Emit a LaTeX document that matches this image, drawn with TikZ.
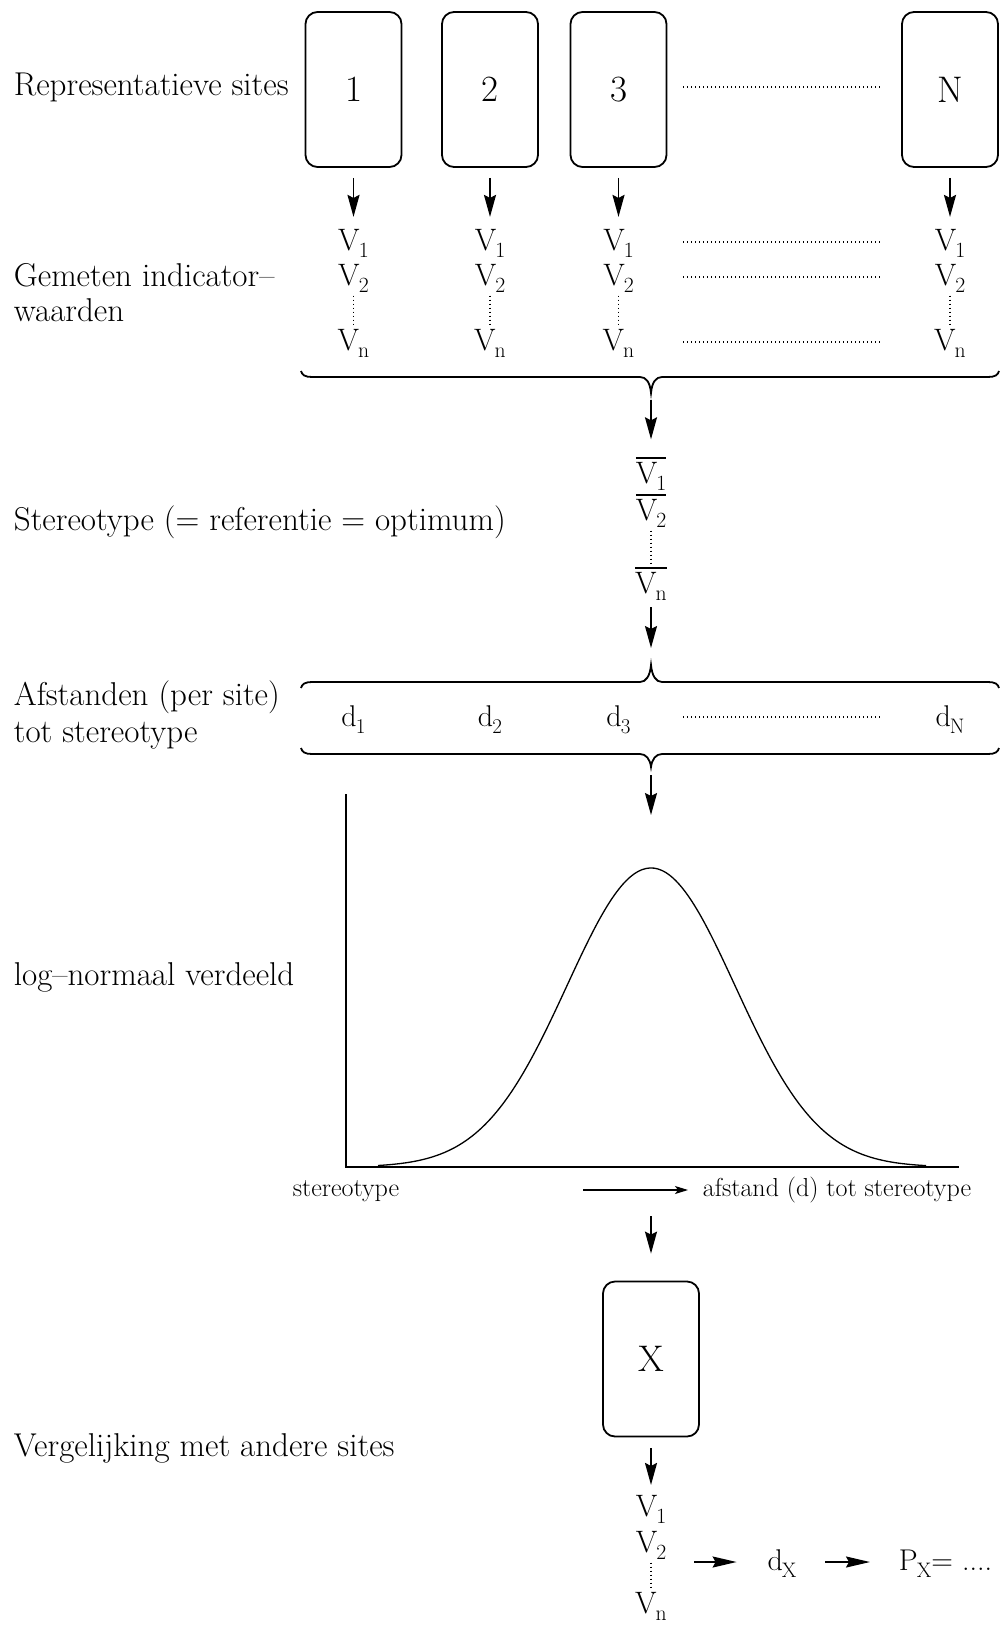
\documentclass[tikz,border=0pt]{standalone}
\usepackage{fontspec}
\usetikzlibrary{arrows.meta,calc}
\newcommand{\lowsub}[1]{\kern-0.03em\raisebox{-0.25em}{\scalebox{0.7}{#1}}}
\newcommand{\ovl}[1]{\vbox{\hrule height 1.6pt\kern 3pt\hbox{#1}}}
\begin{document}
\begin{tikzpicture}[x=1pt,y=-1pt,line width=1.8pt,
  site/.style={draw,rounded corners=12pt,minimum width=96pt,minimum height=155pt,inner sep=0pt,font=\fontsize{37}{40}\selectfont},
  lbl/.style={anchor=base west,inner sep=0pt,font=\fontsize{33}{38}\selectfont},
  small/.style={inner sep=0pt,font=\fontsize{26}{30}\selectfont},
  vv/.style={anchor=base,inner sep=0pt,font=\fontsize{31}{34}\selectfont},
  dd/.style={anchor=base,inner sep=0pt,font=\fontsize{30}{34}\selectfont},
  arr/.style={-{Stealth[length=22pt,width=12pt,inset=3pt]},line width=1.8pt},
  harr/.style={-{Stealth[length=24pt,width=11pt,inset=3pt]},line width=1.8pt},
  thinarr/.style={-{Stealth[length=13pt,width=8pt,inset=3pt]},line width=1.2pt},
  dotline/.style={line width=1.4pt,dash pattern=on 1.4pt off 2.6pt},
  bracepath/.style={line width=1.8pt}]
\path[fill=white,use as bounding box] (0,0) rectangle (1000,1627);

% left labels
\node[lbl] (lab1) at (13,96) {Representatieve sites};
\node[lbl] (lab2a) at (13,286) {Gemeten indicator--};
\node[lbl] (lab2b) at (13,321) {waarden};
\node[lbl] (lab3) at (13,530) {Stereotype (= referentie = optimum)};
\node[lbl] (lab4a) at (13,705) {Afstanden (per site)};
\node[lbl] (lab4b) at (13,742) {tot stereotype};
\node[lbl] (lab5) at (13,985) {log--normaal verdeeld};
\node[lbl] (lab6) at (13,1456) {Vergelijking met andere sites};

% sites and measured values
\foreach \n/\x/\t in {a/353.5/1,b/490/2,c/618.5/3,d/950/N}{
  \node[site] (s\n) at (\x,89.5) {\t};
  \node[vv] (p\n) at (\x,250) {V\lowsub{1}};
  \node[vv] (q\n) at (\x,285) {V\lowsub{2}};
  \node[vv] (r\n) at (\x,350) {V\lowsub{n}};
  \draw[arr] ([yshift=-10pt]s\n.south) -- ([yshift=11pt]p\n.north);
  \draw[dotline] ([yshift=-2pt]q\n.south) -- ([yshift=2pt]r\n.north);
  \node[dd] (d\n) at (\x,726) {d\lowsub{\t}};
}
\draw[dotline] (683,87) -- (880,87);
\draw[dotline] (683,242) -- (880,242);
\draw[dotline] (683,277) -- (880,277);
\draw[dotline] (683,342) -- (880,342);
\draw[dotline] (683,717) -- (880,717);

% first brace (tip down)
\draw[bracepath] (301,371) .. controls (302,375) and (305,377) .. (312,377) -- (640,377)
  .. controls (646,377) and (650,382) .. (651,393) .. controls (652,382) and (656,377) .. (662,377)
  -- (988,377) .. controls (995,377) and (998,375) .. (999,371);
\coordinate (b1) at (651,393);

% stereotype
\node[vv] (m1) at (651,483) {\ovl{V\lowsub{1}}};
\node[vv] (m2) at (651,520) {\ovl{V\lowsub{2}}};
\node[vv] (mn) at (651,593) {\ovl{V\lowsub{n}}};
\draw[arr] ([yshift=-7pt]b1) -- ([yshift=17pt]m1.north);
\draw[dotline] ([yshift=-2pt]m2.south) -- ([yshift=3pt]mn.north);

% distance braces
\coordinate (b2) at (651,665);
\draw[arr] ([yshift=-14pt]mn.base) -- ([yshift=17pt]b2);
\draw[bracepath] (301,688) .. controls (302,684) and (305,682) .. (312,682) -- (640,682)
  .. controls (646,682) and (650,676) .. (651,665) .. controls (652,676) and (656,682) .. (662,682)
  -- (988,682) .. controls (995,682) and (998,684) .. (999,688);
\draw[bracepath] (301,748) .. controls (302,752) and (305,754) .. (312,754) -- (640,754)
  .. controls (646,754) and (650,759) .. (651,767) .. controls (652,759) and (656,754) .. (662,754)
  -- (988,754) .. controls (995,754) and (998,752) .. (999,748);
\coordinate (b3) at (651,767);
\coordinate (g) at (651,815);
\draw[arr] ([yshift=-8pt]b3) -- (g);

% graph
\coordinate (ytop) at (346,794);
\coordinate (orig) at (346,1167);
\coordinate (xend) at (959,1167);
\draw[line width=1.8pt] (ytop) -- (orig) -- (xend);
\draw[line width=1.3pt] plot[domain=378:926,samples=140,smooth] (\x,{1167-299*exp(-0.5*((\x-651)/84)^2)});
\node[small,anchor=base] (st) at (346,1196) {stereotype};
\node[small,anchor=base west] (af) at (702,1196) {afstand (d) tot stereotype};
\coordinate (ta) at (583,1190);
\draw[thinarr] (ta) -- ([xshift=-14pt]af.west |- ta);

% site X
\node[site] (X) at (651,1359) {X};
\coordinate (c5) at (651,1216);
\draw[arr] (c5) -- ([yshift=27pt]X.north);
\node[vv] (w1) at (651,1516) {V\lowsub{1}};
\node[vv] (w2) at (651,1552) {V\lowsub{2}};
\node[vv] (wn) at (651,1613) {V\lowsub{n}};
\draw[arr] ([yshift=-11pt]X.south) -- ([yshift=9pt]w1.north);
\draw[dotline] ([yshift=-2pt]w2.south) -- ([yshift=2pt]wn.north);
\node[dd] (dx) at (782,1570) {d\lowsub{X}};
\node[dd,anchor=base west] (px) at (898,1570) {P\lowsub{X}= ....};
\draw[harr] ($(w2.east|-dx.base)+(27,-8)$) -- ($(dx.west|-dx.base)+(-30,-8)$);
\draw[harr] ($(dx.east|-dx.base)+(28,-8)$) -- ($(px.west|-dx.base)+(-28,-8)$);
\end{tikzpicture}
\end{document}
